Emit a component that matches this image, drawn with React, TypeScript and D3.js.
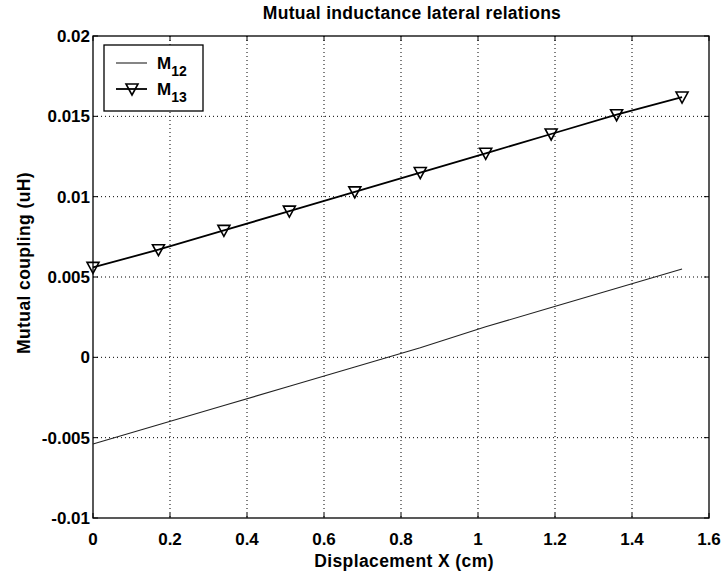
import React from 'react';
import * as d3 from 'd3';

// data
const displacement = [0, 0.17, 0.34, 0.51, 0.68, 0.85, 1.02, 1.19, 1.36, 1.53];
const m12 = [-0.0054, -0.0042, -0.003, -0.0018, -0.0006, 0.0006, 0.0019, 0.0031, 0.0043, 0.0055];
const m13 = [0.0056, 0.0067, 0.0079, 0.0091, 0.0103, 0.0115, 0.0127, 0.0139, 0.0151, 0.0162];
const xTicks = [0, 0.2, 0.4, 0.6, 0.8, 1, 1.2, 1.4, 1.6];
const yTicks = [-0.01, -0.005, 0, 0.005, 0.01, 0.015, 0.02];

const W = 725;
const H = 576;
const left = 93, right = 709, top = 36, bottom = 518;
const font = '"Liberation Sans", Arial, sans-serif';

const fmt = (v: number) => String(+v.toFixed(4));

export default function App() {
  const x = d3.scaleLinear().domain([0, 1.6]).range([left, right]);
  const y = d3.scaleLinear().domain([-0.01, 0.02]).range([bottom, top]);

  const line = d3.line<number>()
    .x((_, i) => x(displacement[i]))
    .y(d => y(d));

  // downward triangle marker
  const tri = (cx: number, cy: number) =>
    `M${cx - 6},${cy - 5}L${cx + 6},${cy - 5}L${cx},${cy + 6}Z`;

  return (
    <svg width={W} height={H} style={{ position: 'absolute', left: 0, top: 0, background: '#fff' }}>
      {/* grid */}
      <g stroke="#000" strokeWidth={1} strokeDasharray="1,3">
        {xTicks.slice(1, -1).map(t => (
          <line key={'gx' + t} x1={x(t)} x2={x(t)} y1={top} y2={bottom} />
        ))}
        {yTicks.slice(1, -1).map(t => (
          <line key={'gy' + t} x1={left} x2={right} y1={y(t)} y2={y(t)} />
        ))}
      </g>

      {/* ticks on all four sides */}
      <g stroke="#000" strokeWidth={1}>
        {xTicks.map(t => (
          <g key={'tx' + t}>
            <line x1={x(t)} x2={x(t)} y1={bottom} y2={bottom - 5} />
            <line x1={x(t)} x2={x(t)} y1={top} y2={top + 5} />
          </g>
        ))}
        {yTicks.map(t => (
          <g key={'ty' + t}>
            <line x1={left} x2={left + 5} y1={y(t)} y2={y(t)} />
            <line x1={right} x2={right - 5} y1={y(t)} y2={y(t)} />
          </g>
        ))}
      </g>

      <rect x={left} y={top} width={right - left} height={bottom - top} fill="none" stroke="#000" strokeWidth={1.3} />

      {/* series */}
      <path d={line(m12) ?? ''} fill="none" stroke="#222" strokeWidth={1.1} />
      <path d={line(m13) ?? ''} fill="none" stroke="#000" strokeWidth={1.8} />
      {m13.map((v, i) => (
        <path key={'mk' + i} d={tri(x(displacement[i]), y(v))} fill="none" stroke="#000" strokeWidth={1.6} />
      ))}

      {/* tick labels */}
      <g fontFamily={font} fontWeight="bold" fontSize={17} fill="#000">
        {xTicks.map(t => (
          <text key={'lx' + t} x={x(t)} y={545} textAnchor="middle">{fmt(t)}</text>
        ))}
        {yTicks.map(t => (
          <text key={'ly' + t} x={left - 3} y={y(t) + 6} textAnchor="end">{fmt(t)}</text>
        ))}
      </g>

      {/* titles */}
      <text x={412} y={19} textAnchor="middle" fontFamily={font} fontWeight="bold" fontSize={17.5} letterSpacing={0.3}>
        Mutual inductance lateral relations
      </text>
      <text x={404} y={567} textAnchor="middle" fontFamily={font} fontWeight="bold" fontSize={17.5} letterSpacing={0.4}>
        Displacement X (cm)
      </text>
      <text transform="translate(30,263) rotate(-90)" textAnchor="middle" fontFamily={font} fontWeight="bold" fontSize={17.5} letterSpacing={0.4}>
        Mutual coupling (uH)
      </text>

      {/* legend */}
      <g>
        <rect x={104} y={45} width={99} height={66} fill="#fff" stroke="#000" strokeWidth={1.3} />
        <line x1={116} x2={147} y1={63} y2={63} stroke="#222" strokeWidth={1.1} />
        <line x1={116} x2={147} y1={89} y2={89} stroke="#000" strokeWidth={1.8} />
        <path d={tri(132, 89)} fill="none" stroke="#000" strokeWidth={1.6} />
        <g fontFamily={font} fontWeight="bold" fill="#000">
          <text x={157} y={69} fontSize={17}>M<tspan fontSize={14} dy={7}>12</tspan></text>
          <text x={157} y={95} fontSize={17}>M<tspan fontSize={14} dy={7}>13</tspan></text>
        </g>
      </g>
    </svg>
  );
}
